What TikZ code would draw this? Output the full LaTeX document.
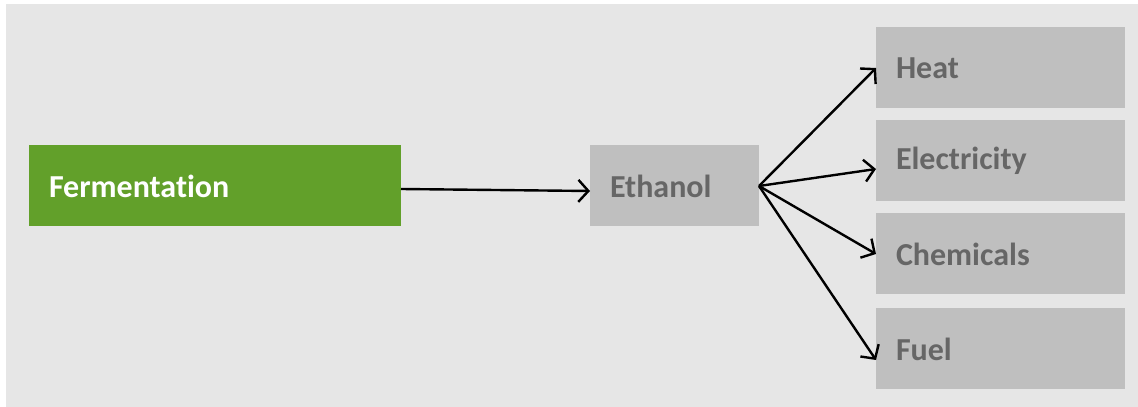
\documentclass[tikz,border=0pt]{standalone}
\usepackage{fontspec}
\setmainfont{Carlito}[Ligatures=NoCommon]
\usetikzlibrary{positioning, arrows.meta}
\definecolor{leaf}{HTML}{62A02A}
\definecolor{boxgray}{HTML}{BFBFBF}
\definecolor{txtgray}{HTML}{666666}
\definecolor{bggray}{HTML}{E6E6E6}
\tikzstyle{gn}=[%
      rectangle, fill=leaf, text=white, font=\fontsize{32}{38}\selectfont\bfseries,
      minimum height=81pt, text width=332pt, inner xsep=20pt, outer sep=0pt, align=left
]
\tikzstyle{gy}=[%
      rectangle, fill=boxgray, text=txtgray, font=\fontsize{32}{38}\selectfont\bfseries,
      minimum height=81pt, text width=129pt, inner xsep=20pt, outer sep=0pt, align=left
]
\tikzstyle{gyw}=[%
      gy, text width=209pt
]
\begin{document}
\begin{tikzpicture}[x=1pt, y=1pt,
    -{Straight Barb[length=10pt,width=22pt]},
    line width=2.4pt
  ]
    \useasboundingbox (0,0) rectangle (1138,407);
    \fill[bggray] (6,0) rectangle (1138,403);

    \node[gn]   (ferm) at (215,221)    {Fermentation};
    \node[gy]   (eth)  [right = 189pt of ferm] {Ethanol};
    \node[gyw]  (heat) [above right = 37pt and 117pt of eth] {Heat};
    \node[gyw]  (elec) [below = 12pt of heat] {Electricity};
    \node[gyw]  (chem) [below = 12pt of elec] {Chemicals};
    \node[gyw]  (fuel) [below = 14pt of chem] {Fuel};

    \draw ([yshift=-3pt]ferm.east) -- ([yshift=-5pt]eth.west);
    \draw (eth.east) -- (heat.west);
    \draw (eth.east) -- ([yshift=-8pt]elec.west);
    \draw (eth.east) -- (chem.west);
    \draw (eth.east) -- ([yshift=-11pt]fuel.west);

  \end{tikzpicture}
\end{document}
